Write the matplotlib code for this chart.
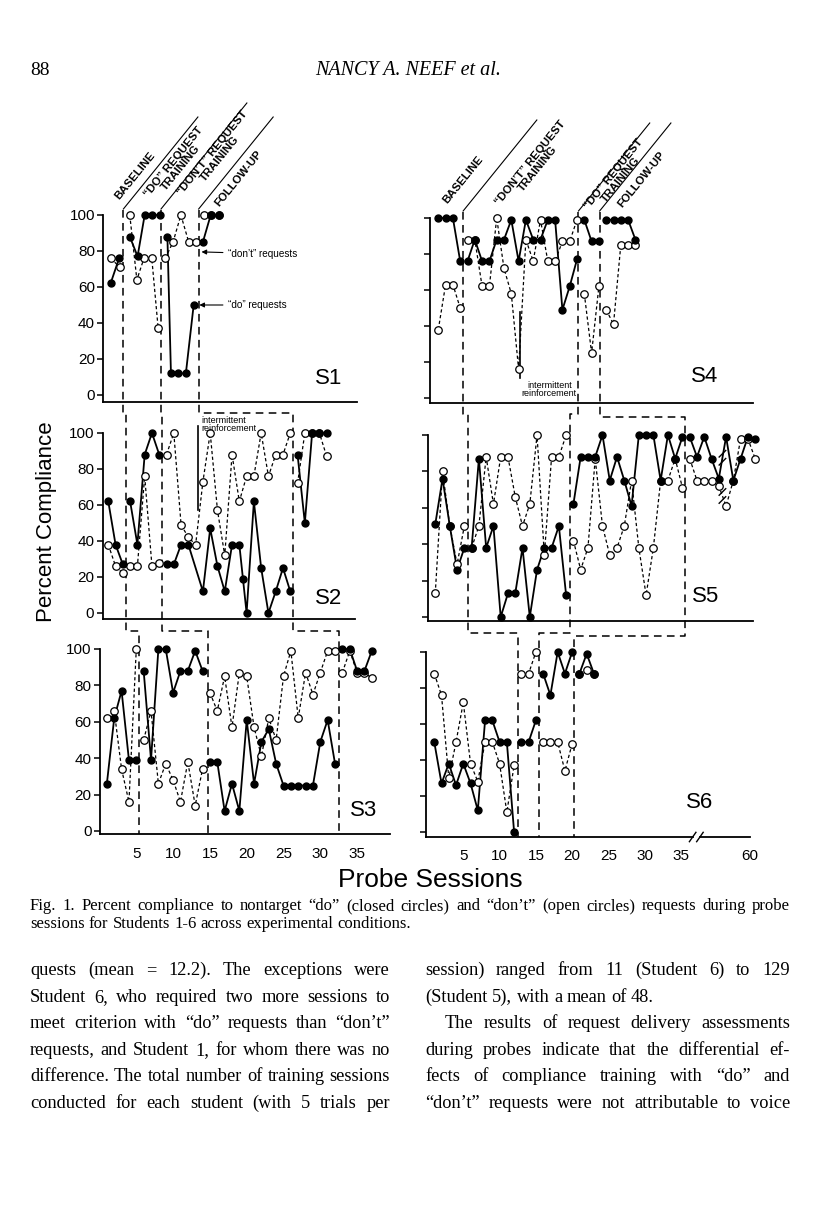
import matplotlib
matplotlib.use("Agg")
import matplotlib.pyplot as plt
from matplotlib.lines import Line2D

W, H = 816, 1205
SANS = ["Liberation Sans", "DejaVu Sans"]
SERIF = ["Liberation Serif", "DejaVu Serif"]
plt.rcParams["font.family"] = SANS

# ---- probe data: session -> percent compliance ----
# S1
s1_do_x = [1, 2.2, 3.7, 4.8, 5.8, 6.9, 7.9, 9.0, 9.5, 10.5, 11.6, 12.7, 14.0, 15.1, 16.2]
s1_do_y = [62, 76, 88, 77, 100, 100, 100, 88, 12, 12, 12, 50, 85, 100, 100]
s1_dont_x = [1, 2.3, 3.7, 4.7, 5.7, 6.8, 7.7, 8.7, 9.8, 10.9, 12.0, 13.0, 14.1, 15.1, 16.2]
s1_dont_y = [76, 71, 100, 64, 76, 76, 37, 76, 85, 100, 85, 85, 100, 100, 100]
s1_phase = [2.8, 8.1, 13.4]

# S2
s2_do_x = [1, 2, 3, 4, 5, 6, 7, 8, 9, 10, 11, 12, 14, 15, 16, 17, 18, 19, 19.5, 20,
           21, 22, 23, 24, 25, 26, 27, 28, 29, 30, 31]
s2_do_y = [62, 38, 27, 62, 38, 88, 100, 88, 27, 27, 38, 38, 12, 47, 26, 12, 38, 38, 19, 0,
           62, 25, 0, 12, 25, 12, 88, 50, 100, 100, 100]
s2_dont_x = [1, 2, 3, 4, 5, 6, 7, 8, 9, 10, 11, 12, 13, 14, 15, 16, 17, 18, 19, 20,
             21, 22, 23, 24, 25, 26, 27, 28, 29, 30, 31]
s2_dont_y = [38, 26, 22, 26, 26, 76, 26, 28, 88, 100, 49, 42, 38, 73, 100, 57, 32, 88, 62, 76,
             76, 100, 76, 88, 88, 100, 72, 100, 100, 100, 87]
s2_phase = [3.4, 8.4, 26.4]
s2_intermittent = 13.3

# S3
s3_x = [1, 2, 3, 4, 5, 6, 7, 8, 9, 10, 11, 12, 13, 14, 15, 16, 17, 18, 19, 20,
        21, 22, 23, 24, 25, 26, 27, 28, 29, 30, 31, 32, 33, 34, 35, 36, 37]
s3_do_y = [26, 62, 77, 39, 39, 88, 39, 100, 100, 76, 88, 88, 99, 88, 38, 38, 11, 26, 11, 61,
           26, 49, 56, 37, 25, 25, 25, 25, 25, 49, 61, 37, 100, 100, 88, 88, 99]
s3_dont_y = [62, 66, 34, 16, 100, 50, 66, 26, 37, 28, 16, 38, 14, 34, 76, 66, 85, 57, 87, 85,
             57, 41, 62, 50, 85, 99, 62, 87, 75, 87, 99, 99, 87, 99, 87, 87, 84]
s3_phase = [5.4, 14.8, 32.6]

# S4
s4_x = [1, 2, 3, 4, 5, 6, 7, 8, 9, 10, 11, 12, 13, 14, 15, 16, 17, 18, 19, 20,
        21, 22, 23, 24, 25, 26, 27, 28]
s4_do_y = [100, 100, 100, 76, 76, 88, 76, 76, 88, 88, 99, 76, 99, 88, 88, 99, 99, 49, 62, 77,
           99, 87, 87, 99, 99, 99, 99, 88]
s4_dont_y = [38, 63, 63, 50, 88, 88, 62, 62, 100, 72, 58, 16, 88, 76, 99, 76, 76, 87, 87, 99,
             58, 25, 62, 49, 41, 85, 85, 85]
s4_phase = [4.4, 20.2, 23.1]
s4_intermittent = 12.2

# S5 (positions after the break stand for sessions near 60)
s5_x = [1, 2, 3, 4, 5, 6, 7, 8, 9, 10, 11, 12, 13, 14, 15, 16, 17, 18, 19, 20,
        21, 22, 23, 24, 25, 26, 27, 28, 29, 30, 31, 32, 33, 34, 35, 36, 37, 38, 39, 40,
        41, 42, 43, 44, 45]
s5_do_y = [51, 76, 50, 26, 38, 38, 87, 38, 50, 0, 13, 13, 38, 0, 26, 38, 38, 50, 12, 62,
           88, 88, 88, 100, 75, 88, 75, 61, 100, 100, 100, 75, 100, 87, 99, 99, 88, 99, 87, 76,
           99, 75, 87, 99, 98]
s5_dont_y = [13, 80, 50, 29, 50, 38, 50, 88, 62, 88, 88, 66, 50, 62, 100, 34, 88, 88, 100, 42,
             26, 38, 87, 50, 34, 38, 50, 75, 38, 12, 38, 75, 75, 87, 71, 87, 75, 75, 75, 72,
             61, 75, 98, 98, 87]
s5_phase = [5.5, 19.5, 35.4]
s5_break = 40.5

# S6
s6_x = [1, 2, 3, 4, 5, 6, 7, 8, 9, 10, 11, 12, 13, 14, 15, 16, 17, 18, 19, 20, 21, 22, 23]
s6_do_y = [50, 27, 38, 26, 38, 27, 12, 62, 62, 50, 50, 0, 50, 50, 62, 88, 76, 100, 88, 100,
           88, 99, 88]
s6_dont_y = [88, 76, 30, 50, 72, 38, 28, 50, 50, 38, 11, 37, 88, 88, 100, 50, 50, 50, 34, 49,
             88, 90, 88]
s6_phase = [12.5, 15.4, 20.3]

left_ticks = [5, 10, 15, 20, 25, 30, 35]
right_ticks = [5, 10, 15, 20, 25, 30, 35, 44.5]
right_ticklabels = ["5", "10", "15", "20", "25", "30", "35", "60"]
y_ticks = [0, 20, 40, 60, 80, 100]

caption = ["Fig. 1. Percent compliance to nontarget \u201cdo\u201d (closed circles) and \u201cdon\u2019t\u201d (open circles) requests during probe",
           "sessions for Students 1-6 across experimental conditions."]
left_col = ["quests (mean = 12.2). The exceptions were",
            "Student 6, who required two more sessions to",
            "meet criterion with \u201cdo\u201d requests than \u201cdon\u2019t\u201d",
            "requests, and Student 1, for whom there was no",
            "difference. The total number of training sessions",
            "conducted for each student (with 5 trials per"]
right_col = ["session) ranged from 11 (Student 6) to 129",
             "(Student 5), with a mean of 48.",
             "The results of request delivery assessments",
             "during probes indicate that the differential ef-",
             "fects of compliance training with \u201cdo\u201d and",
             "\u201cdon\u2019t\u201d requests were not attributable to voice"]

fig = plt.figure(figsize=(W / 100, H / 100), dpi=100)
fig.patch.set_facecolor("white")


def fx(x):
    return x / W


def fy(y):
    return 1 - y / H


def make_ax(spine, s0, scale, end, y100, y0, yaxis, left_labels):
    top = y100 - 6
    k = (y0 - y100) / 100.0
    ax = fig.add_axes([fx(spine), fy(yaxis), (end - spine) / W, (yaxis - top) / H])
    ax.set_xlim((spine - s0) / scale, (end - s0) / scale)
    ax.set_ylim(-(yaxis - y0) / k, (y0 - top) / k)
    ax.patch.set_visible(False)
    for s in ["top", "right"]:
        ax.spines[s].set_visible(False)
    ax.spines["left"].set_bounds(ax.get_ylim()[0], 100)
    for s in ["left", "bottom"]:
        ax.spines[s].set_linewidth(1.3)
    ax.set_yticks(y_ticks)
    ax.tick_params(axis="y", direction="out", length=4, width=1.1, pad=2, labelsize=11)
    if not left_labels:
        ax.set_yticklabels([])
    ax.set_xticks([])
    return ax


def draw_series(ax, xs, ys, phases, filled):
    bounds = [-1e9] + phases + [1e9]
    for lo, hi in zip(bounds[:-1], bounds[1:]):
        sx = [x for x in xs if lo < x < hi]
        sy = [y for x, y in zip(xs, ys) if lo < x < hi]
        if not sx:
            continue
        if filled:
            ax.plot(sx, sy, color="k", lw=1.3, zorder=3, clip_on=False)
            ax.plot(sx, sy, "o", ms=5, mfc="k", mec="k", zorder=5, clip_on=False)
        else:
            ax.plot(sx, sy, color="k", lw=0.9, ls=(0, (2.6, 2.0)), zorder=2, clip_on=False)
            ax.plot(sx, sy, "o", ms=5.4, mfc="white", mec="k", mew=0.9, zorder=4, clip_on=False)


def to_ref(ax, x, y=0):
    X, Y = ax.transData.transform((x, y))
    return X, H - Y


def fig_line(pts, **kw):
    fig.add_artist(Line2D([p[0] / W for p in pts], [1 - p[1] / H for p in pts],
                          transform=fig.transFigure, color="k", zorder=-1, **kw))


ax1 = make_ax(103.3, 103.5, 7.1, 357, 215, 395, 402, True)
ax2 = make_ax(102.7, 101.0, 7.28, 355, 433, 613, 619, True)
ax3 = make_ax(100.0, 99.5, 7.36, 390, 649, 831, 834, True)
ax4 = make_ax(430.0, 431.0, 7.3, 753, 218, 398, 403, False)
ax5 = make_ax(428.0, 428.0, 7.27, 753, 435, 617, 621, False)
ax6 = make_ax(426.0, 427.0, 7.27, 750, 652, 832, 837, False)

draw_series(ax1, s1_dont_x, s1_dont_y, s1_phase, False)
draw_series(ax1, s1_do_x, s1_do_y, s1_phase, True)
draw_series(ax2, s2_dont_x, s2_dont_y, s2_phase, False)
draw_series(ax2, s2_do_x, s2_do_y, s2_phase, True)
draw_series(ax3, s3_x, s3_dont_y, s3_phase, False)
draw_series(ax3, s3_x, s3_do_y, s3_phase, True)
draw_series(ax4, s4_x, s4_dont_y, s4_phase, False)
draw_series(ax4, s4_x, s4_do_y, s4_phase, True)
draw_series(ax5, s5_x, s5_dont_y, s5_phase, False)
draw_series(ax5, s5_x, s5_do_y, s5_phase, True)
draw_series(ax6, s6_x, s6_dont_y, s6_phase, False)
draw_series(ax6, s6_x, s6_do_y, s6_phase, True)

# intermittent reinforcement markers
ax2.plot([s2_intermittent, s2_intermittent], [57, 104], color="k", lw=1.2, clip_on=False)
ax4.plot([s4_intermittent, s4_intermittent], [11, 48], color="k", lw=1.2, clip_on=False)

# break marks on S5 lines
for yc in [(s5_do_y[39] + s5_do_y[40]) / 2, (s5_dont_y[39] + s5_dont_y[40]) / 2]:
    for dy in [-2.2, 2.2]:
        ax5.plot([s5_break - 0.45, s5_break + 0.45], [yc + dy - 1.8, yc + dy + 1.8],
                 color="k", lw=1.0, zorder=6, clip_on=False)

# bottom tick labels
ax3.set_xticks(left_ticks)
ax3.set_xticklabels([str(t) for t in left_ticks])
ax3.tick_params(axis="x", length=0, pad=9, labelsize=11)
ax6.set_xticks(right_ticks)
ax6.set_xticklabels(right_ticklabels)
ax6.tick_params(axis="x", length=0, pad=9, labelsize=11)

# broken x axis on S6
ax6.spines["bottom"].set_visible(False)
yb = ax6.get_ylim()[0]
x_lo, x_hi = ax6.get_xlim()
ax6.plot([x_lo, 36.6], [yb, yb], color="k", lw=1.3, clip_on=False)
ax6.plot([37.6, x_hi], [yb, yb], color="k", lw=1.3, clip_on=False)
for xb in [36.6, 37.6]:
    ax6.plot([xb - 0.45, xb + 0.45], [yb - 2.6, yb + 2.6], color="k", lw=1.0, clip_on=False)

# phase change lines running through each column
dash = (0, (5, 3.5))
for i in range(3):
    xa = to_ref(ax1, s1_phase[i])[0]
    xb = to_ref(ax2, s2_phase[i])[0]
    xc = to_ref(ax3, s3_phase[i])[0]
    fig_line([(xa, 210), (xa, 413), (xb, 413), (xb, 631), (xc, 631), (xc, 834)], lw=1.1, ls=dash)
jog1 = [414, 414, 417]
jog2 = [633, 633, 636]
for i in range(3):
    xa = to_ref(ax4, s4_phase[i])[0]
    xb = to_ref(ax5, s5_phase[i])[0]
    xc = to_ref(ax6, s6_phase[i])[0]
    fig_line([(xa, 212), (xa, jog1[i]), (xb, jog1[i]), (xb, jog2[i]), (xc, jog2[i]), (xc, 837)],
             lw=1.1, ls=dash)

# slanted lines for the condition labels
for ax, ph, y_start, tops in [(ax1, s1_phase, 209, [117, 103, 117]),
                              (ax4, s4_phase, 211, [120, 123, 123])]:
    for p, t in zip(ph, tops):
        xa = to_ref(ax, p)[0]
        fig_line([(xa, y_start), (xa + 0.81 * (y_start - t), t)], lw=0.8)

cond_kw = dict(rotation=51, rotation_mode="anchor", ha="center", va="center",
               multialignment="center", fontsize=8.2, fontweight="semibold", linespacing=1.0)
fig.text(fx(135), fy(176), "BASELINE", **cond_kw)
fig.text(fx(177), fy(165), "\u201cDO\u201d REQUEST\nTRAINING", **cond_kw)
fig.text(fx(216), fy(156), "\u201cDON\u2019T\u201d REQUEST\nTRAINING", **cond_kw)
fig.text(fx(238), fy(178), "FOLLOW-UP", **cond_kw)
fig.text(fx(463), fy(180), "BASELINE", **cond_kw)
fig.text(fx(534), fy(166), "\u201cDON\u2019T\u201d REQUEST\nTRAINING", **cond_kw)
fig.text(fx(617), fy(177), "\u201cDO\u201d REQUEST\nTRAINING", **cond_kw)
fig.text(fx(641), fy(179), "FOLLOW-UP", **cond_kw)

fig.text(fx(201), fy(416), "intermittent\nreinforcement", fontsize=6.5, ha="left", va="top",
         linespacing=0.9)
fig.text(fx(577), fy(381), "intermittent\nreinforcement", fontsize=6.5, ha="right", va="top",
         linespacing=0.9, multialignment="center")

arrow = dict(arrowstyle="-|>", color="k", lw=0.8, mutation_scale=7, shrinkA=2, shrinkB=0)
ax1.annotate("\u201cdon\u2019t\u201d requests", xy=(13.8, 79.5), xytext=(17.6, 78.5),
             ha="left", va="center", fontsize=7.2, arrowprops=arrow)
ax1.annotate("\u201cdo\u201d requests", xy=(13.5, 50), xytext=(17.6, 50),
             ha="left", va="center", fontsize=7.2, arrowprops=arrow)

# panel names
for (x, y), name in zip([(329, 378), (329, 598), (364, 810), (705, 377), (706, 597), (700, 803)],
                        ["S1", "S2", "S3", "S4", "S5", "S6"]):
    fig.text(fx(x), fy(y), name, fontsize=16, ha="center", va="center")

fig.text(fx(47), fy(522), "Percent Compliance", rotation=90, fontsize=16, ha="center", va="center")
fig.text(fx(430), fy(880), "Probe Sessions", fontsize=19, ha="center", va="center")

# page text
fig.text(fx(30), fy(75), "88", family=SERIF, fontsize=14, ha="left", va="baseline")
fig.text(fx(408), fy(75), "NANCY A. NEEF et al.", family=SERIF, style="italic", fontsize=14.5,
         ha="center", va="baseline")

renderer = fig.canvas.get_renderer()


def put_line(text, x0, x1, y, size, justify=True):
    words = text.split(" ")
    ts = [fig.text(0, 0, w, family=SERIF, fontsize=size, ha="left", va="baseline") for w in words]
    ws = [t.get_window_extent(renderer).width for t in ts]
    gap = size * 1.389 * 0.25
    if justify and len(words) > 1:
        gap = max((x1 - x0 - sum(ws)) / (len(words) - 1), 2.0)
    x = x0
    for t, w in zip(ts, ws):
        t.set_position((fx(x), fy(y)))
        x += w + gap


put_line(caption[0], 30, 790, 910, 12)
put_line(caption[1], 30, 790, 928, 12, justify=False)

baselines = [975, 1002, 1028, 1055, 1081, 1108]
for line, y in zip(left_col, baselines):
    put_line(line, 30, 390, y, 13.2)
for j, (line, y) in enumerate(zip(right_col, baselines)):
    x0 = 445 if j == 2 else 425
    put_line(line, x0, 790, y, 13.2, justify=(j != 1))

fig.savefig("out.png", dpi=100)
